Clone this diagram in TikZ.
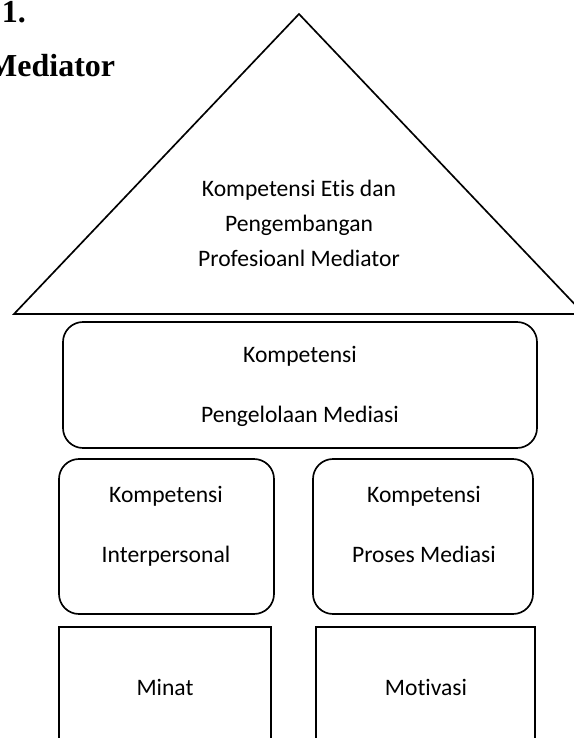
\documentclass[tikz,border=0pt]{standalone}
\usepackage{fontspec}
\setmainfont[Ligatures={NoCommon}]{Carlito}
\newfontfamily\titlefont{Liberation Serif}
\usepackage{tikz}

\begin{document}
\begin{tikzpicture}[x=0.75pt,y=-0.75pt,line width=1.25pt,
  rbox/.style={draw,rounded corners=15pt,inner sep=0pt},
  sbox/.style={draw,inner sep=0pt},
  txt/.style={align=center,anchor=base,inner sep=0pt,font=\fontsize{17.7}{45}\selectfont},
  rooftxt/.style={txt,font=\fontsize{17.7}{25.9}\selectfont},
  title/.style={anchor=base,inner sep=0pt,font=\titlefont\bfseries\fontsize{24}{28}\selectfont}]
\useasboundingbox (0,0) rectangle (574,738);
\clip (0,0) rectangle (574,738);
\node[title,anchor=base west] (num) at (1,22.7) {1.};
\node[title,anchor=base east] (med) at (116,77) {Mediator};
\coordinate (top) at (299,14);
\coordinate (bl) at (14,314);
\coordinate (br) at (584,314);
\draw[line join=miter] (bl) -- (top) -- (br) -- cycle;
\node[rooftxt] (etis) at (299,266) {Kompetensi Etis dan\\Pengembangan\\Profesioanl Mediator};
\node[rbox,minimum width=355.5pt,minimum height=94.5pt] (kelola) at (300,385) {};
\node[txt] (kelolatxt) at (300,422) {Kompetensi\\Pengelolaan Mediasi};
\node[rbox,minimum width=161.25pt,minimum height=116.25pt] (inter) at (166.5,536.5) {};
\node[txt] (intertxt) at (166,562) {Kompetensi\\Interpersonal};
\node[rbox,minimum width=165pt,minimum height=116.25pt] (proses) at (423,536.5) {};
\node[txt] (prosestxt) at (424,562) {Kompetensi\\Proses Mediasi};
\node[sbox,minimum width=159pt,minimum height=107.25pt] (minat) at (165,698.5) {};
\node[txt] (minattxt) at (165,695) {Minat};
\node[sbox,minimum width=164.25pt,minimum height=107.25pt] (motiv) at (425.5,698.5) {};
\node[txt] (motivtxt) at (426,695) {Motivasi};
\end{tikzpicture}
\end{document}
